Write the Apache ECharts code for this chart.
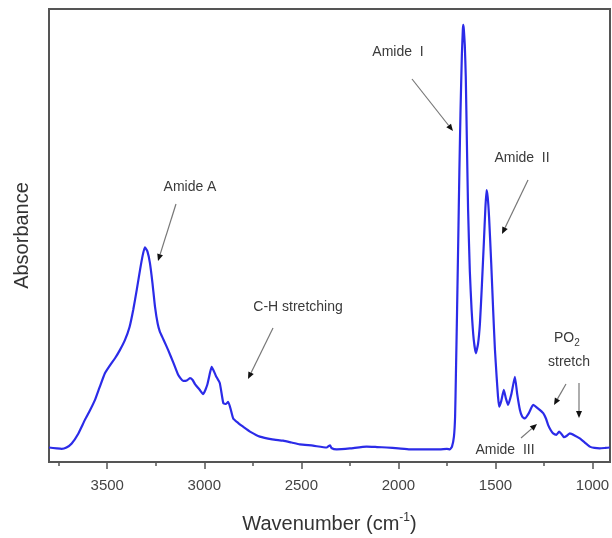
<!DOCTYPE html>
<html>
<head>
<meta charset="utf-8">
<script src="https://cdn.jsdelivr.net/npm/echarts@6/dist/echarts.min.js"></script>
<style>
  html, body { margin: 0; padding: 0; background: #fff; }
  #chart { width: 612px; height: 538px; }
</style>
</head>
<body>
<div id="chart"></div>
<script>
// spectrum (wavenumber in cm-1, absorbance in arbitrary units)
var wavenumbers = [3800, 3760, 3735, 3710, 3683, 3650, 3615, 3590, 3563, 3540, 3512, 3485, 3460, 3435, 3409,
  3385, 3366, 3348, 3331, 3318, 3306, 3293, 3280, 3267, 3254, 3240, 3229, 3210, 3186, 3160, 3134, 3109, 3090,
  3074, 3060, 3048, 3025, 3006, 2985, 2970, 2962, 2950, 2940, 2920, 2902, 2888, 2877, 2865, 2851, 2825, 2800,
  2760, 2714, 2650, 2594, 2550, 2508, 2440, 2370, 2352, 2345, 2318, 2250, 2164, 2110, 2061, 2000, 1941, 1860,
  1787, 1750, 1735, 1724, 1714, 1708, 1704, 1698, 1692, 1686, 1680, 1673, 1668, 1666, 1663, 1658, 1653, 1647,
  1641, 1632, 1623, 1612, 1601, 1590, 1580, 1570, 1560, 1552, 1546, 1540, 1533, 1522, 1512, 1503, 1494, 1487,
  1481, 1470, 1457, 1446, 1435, 1418, 1400, 1388, 1374, 1362, 1349, 1328, 1306, 1280, 1254, 1240, 1229, 1215,
  1203, 1186, 1172, 1160, 1148, 1132, 1117, 1090, 1066, 1040, 1014, 990, 963, 935, 911];
var absorbance = [0.032, 0.030, 0.029, 0.032, 0.041, 0.062, 0.093, 0.113, 0.137, 0.164, 0.196, 0.214, 0.229,
  0.247, 0.269, 0.298, 0.336, 0.380, 0.424, 0.455, 0.474, 0.465, 0.439, 0.395, 0.343, 0.305, 0.288, 0.270,
  0.247, 0.220, 0.192, 0.179, 0.180, 0.185, 0.181, 0.172, 0.160, 0.150, 0.170, 0.198, 0.210, 0.200, 0.190,
  0.174, 0.130, 0.128, 0.133, 0.118, 0.096, 0.086, 0.078, 0.066, 0.056, 0.050, 0.047, 0.043, 0.039, 0.036,
  0.032, 0.037, 0.031, 0.028, 0.030, 0.034, 0.033, 0.032, 0.030, 0.028, 0.028, 0.028, 0.029, 0.028, 0.034,
  0.056, 0.100, 0.188, 0.330, 0.483, 0.640, 0.777, 0.900, 0.955, 0.965, 0.955, 0.920, 0.851, 0.700, 0.556,
  0.420, 0.336, 0.270, 0.240, 0.260, 0.306, 0.390, 0.483, 0.560, 0.600, 0.585, 0.541, 0.440, 0.336, 0.250,
  0.188, 0.145, 0.122, 0.135, 0.159, 0.140, 0.126, 0.150, 0.188, 0.150, 0.115, 0.100, 0.096, 0.108, 0.126,
  0.118, 0.108, 0.096, 0.082, 0.070, 0.063, 0.060, 0.067, 0.062, 0.055, 0.058, 0.063, 0.058, 0.052, 0.043,
  0.034, 0.031, 0.030, 0.031, 0.032];
var majorTicks = [1000, 1500, 2000, 2500, 3000, 3500];
var minorTicks = [1250, 1750, 2250, 2750, 3250, 3750];

var points = [];
for (var i = 0; i < wavenumbers.length; i++) {
  points.push([wavenumbers[i], absorbance[i]]);
}

var font = 'Liberation Sans, Arial, sans-serif';
var textColor = '#3a3a3a';

// annotation helpers (pixel layout)
function label(txt, x, y) {
  return {
    type: 'text', x: x, y: y, z: 10,
    style: { text: txt, fill: textColor, font: '14px ' + font, align: 'center', verticalAlign: 'middle' }
  };
}
function arrow(x1, y1, x2, y2) {
  var dx = x2 - x1, dy = y2 - y1;
  var len = Math.sqrt(dx * dx + dy * dy);
  var ux = dx / len, uy = dy / len;
  var hl = 7, hw = 3;
  var bx = x2 - ux * hl, by = y2 - uy * hl;
  return {
    type: 'group', z: 10,
    children: [
      { type: 'line', shape: { x1: x1, y1: y1, x2: bx, y2: by }, style: { stroke: '#777', lineWidth: 1.2 } },
      { type: 'polygon', shape: { points: [[x2, y2], [bx - uy * hw, by + ux * hw], [bx + uy * hw, by - ux * hw]] },
        style: { fill: '#111' } }
    ]
  };
}

var myChart = echarts.init(document.getElementById('chart'));
var option = {
  backgroundColor: '#fff',
  animation: false,
  grid: {
    left: 49, right: 2, top: 9, bottom: 76,
    outerBoundsMode: 'none', containLabel: false,
    show: true, borderColor: '#555', borderWidth: 2, backgroundColor: 'transparent'
  },
  xAxis: [
    {
      type: 'value', inverse: true, min: 910, max: 3800,
      name: 'Wavenumber (cm{sup|-1})',
      nameLocation: 'middle', nameGap: 50,
      nameTextStyle: {
        fontFamily: font, fontSize: 20, color: '#333',
        rich: { sup: { fontFamily: font, fontSize: 12, color: '#333', padding: [0, 0, 12, 0] } }
      },
      axisLine: { show: false },
      axisTick: { show: true, length: 7, customValues: majorTicks, lineStyle: { color: '#555', width: 1.5 } },
      axisLabel: {
        customValues: majorTicks, margin: 16, fontFamily: font, fontSize: 15, color: '#444',
        formatter: function (v) { return String(v); }
      },
      splitLine: { show: false }
    },
    {
      type: 'value', inverse: true, min: 910, max: 3800, position: 'bottom', offset: 0,
      axisLine: { show: false },
      axisTick: { show: true, length: 4, customValues: minorTicks, lineStyle: { color: '#555', width: 1.5 } },
      axisLabel: { show: false },
      splitLine: { show: false }
    }
  ],
  yAxis: {
    type: 'value', min: 0, max: 1,
    name: 'Absorbance', nameLocation: 'middle', nameGap: 17,
    nameTextStyle: { fontFamily: font, fontSize: 20, color: '#333' },
    axisLine: { show: false }, axisTick: { show: false }, axisLabel: { show: false },
    splitLine: { show: false }
  },
  series: [{
    type: 'line',
    data: points,
    showSymbol: false,
    smooth: 0.15,
    lineStyle: { color: '#2b2be8', width: 2.2 }
  }],
  graphic: [
    label('Amide A', 190, 187),
    arrow(176, 204, 158, 261),
    label('C-H stretching', 298, 307),
    arrow(273, 328, 248, 379),
    label('Amide  I', 398, 52),
    arrow(412, 79, 453, 131),
    label('Amide  II', 522, 158),
    arrow(528, 180, 502, 234),
    label('PO', 564, 338),
    { type: 'text', x: 577, y: 343, z: 10,
      style: { text: '2', fill: textColor, font: '10px ' + font, align: 'center', verticalAlign: 'middle' } },
    label('stretch', 569, 362),
    arrow(566, 384, 554, 405),
    arrow(579, 383, 579, 418),
    label('Amide  III', 505, 450),
    arrow(521, 438, 537, 424)
  ]
};
myChart.setOption(option);
</script>
</body>
</html>
